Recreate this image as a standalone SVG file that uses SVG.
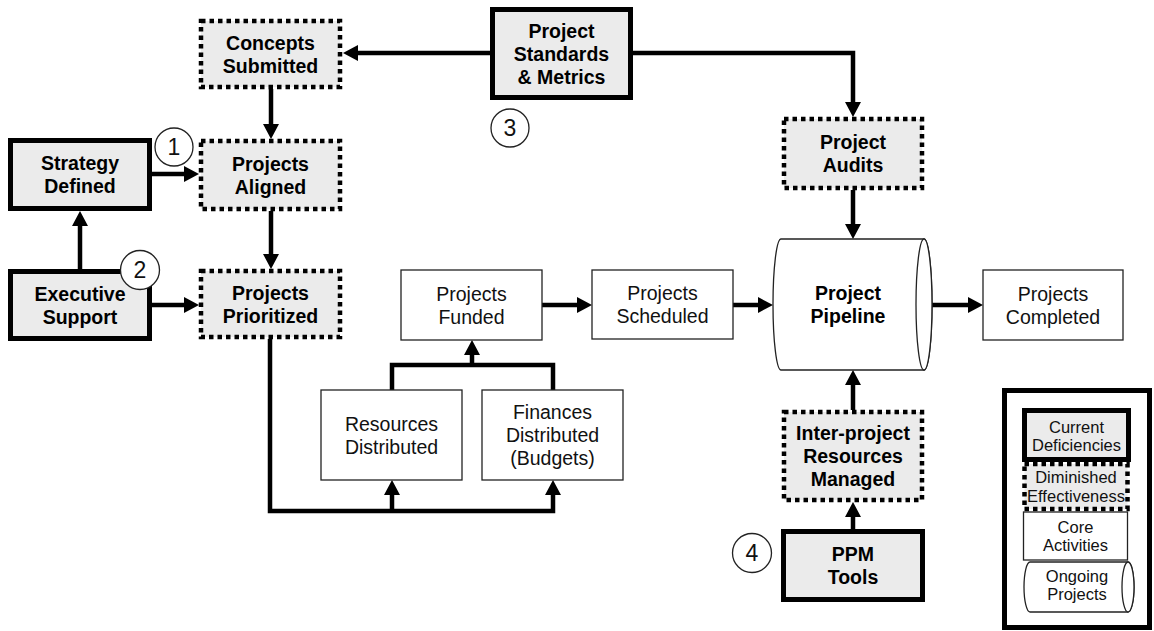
<svg xmlns="http://www.w3.org/2000/svg" width="1154" height="631" viewBox="0 0 1154 631">
<style>
  text { font-family: "Liberation Sans", Arial, sans-serif; fill: #000; text-anchor: middle; }
  .b { font-weight: bold; font-size: 19.5px; }
  .r { font-size: 19.5px; fill: #111; }
  .n { font-size: 23px; fill: #111; }
  .lg { font-size: 16.5px; fill: #111; }
  .cur { fill: #ebebeb; stroke: #000; stroke-width: 5; }
  .dim { fill: #ebebeb; stroke: #000; stroke-width: 4.5; stroke-dasharray: 4.5 4; }
  .core { fill: #fff; stroke: #222; stroke-width: 1.3; }
  .circ { fill: #fff; stroke: #222; stroke-width: 1.3; }
  .conn { fill: none; stroke: #000; stroke-width: 4.5; }
</style>
<defs>
  <marker id="ah" markerUnits="userSpaceOnUse" markerWidth="15" markerHeight="16" refX="5" refY="8" orient="auto">
    <path d="M0,0 L15,8 L0,16 z" fill="#000"/>
  </marker>
</defs>
<rect width="1154" height="631" fill="#fff"/>

<g id="connectors">
  <path class="conn" d="M490,53 H353" marker-end="url(#ah)"/>
  <path class="conn" d="M633,53 H853 V107" marker-end="url(#ah)"/>
  <path class="conn" d="M271,89 V129" marker-end="url(#ah)"/>
  <path class="conn" d="M152,174 H189" marker-end="url(#ah)"/>
  <path class="conn" d="M80,269 V221" marker-end="url(#ah)"/>
  <path class="conn" d="M152,305 H189" marker-end="url(#ah)"/>
  <path class="conn" d="M271,211 V259" marker-end="url(#ah)"/>
  <path class="conn" d="M270,339 V511 H553 V490" marker-end="url(#ah)"/>
  <path class="conn" d="M392,511 V490" marker-end="url(#ah)"/>
  <path class="conn" d="M392,390 V365 H553 V390"/>
  <path class="conn" d="M472,365 V350" marker-end="url(#ah)"/>
  <path class="conn" d="M542,305 H582" marker-end="url(#ah)"/>
  <path class="conn" d="M733,305 H763" marker-end="url(#ah)"/>
  <path class="conn" d="M853,190 V229" marker-end="url(#ah)"/>
  <path class="conn" d="M853,410 V380" marker-end="url(#ah)"/>
  <path class="conn" d="M853,529 V512" marker-end="url(#ah)"/>
  <path class="conn" d="M932,305 H973" marker-end="url(#ah)"/>
</g>

<g id="concepts-submitted">
  <rect class="dim" x="201" y="21" width="139" height="66"/>
  <text class="b" x="270.5" y="49.5">Concepts</text>
  <text class="b" x="270.5" y="72.5">Submitted</text>
</g>
<g id="project-standards">
  <rect class="cur" x="492.5" y="9.5" width="138" height="88"/>
  <text class="b" x="561.5" y="37.5">Project</text>
  <text class="b" x="561.5" y="60.5">Standards</text>
  <text class="b" x="561.5" y="83.5">&amp; Metrics</text>
</g>
<g id="strategy-defined">
  <rect class="cur" x="10.5" y="140.5" width="139" height="68"/>
  <text class="b" x="80" y="170">Strategy</text>
  <text class="b" x="80" y="193">Defined</text>
</g>
<g id="projects-aligned">
  <rect class="dim" x="201" y="141" width="139" height="68"/>
  <text class="b" x="270.5" y="170.5">Projects</text>
  <text class="b" x="270.5" y="193.5">Aligned</text>
</g>
<g id="executive-support">
  <rect class="cur" x="10.5" y="271.5" width="139" height="67"/>
  <text class="b" x="80" y="300.5">Executive</text>
  <text class="b" x="80" y="323.5">Support</text>
</g>
<g id="projects-prioritized">
  <rect class="dim" x="201" y="271" width="139" height="66"/>
  <text class="b" x="270.5" y="299.5">Projects</text>
  <text class="b" x="270.5" y="322.5">Prioritized</text>
</g>
<g id="project-audits">
  <rect class="dim" x="784" y="119" width="138" height="69"/>
  <text class="b" x="853" y="149">Project</text>
  <text class="b" x="853" y="172">Audits</text>
</g>
<g id="projects-funded">
  <rect class="core" x="401" y="270" width="141" height="70"/>
  <text class="r" x="471.5" y="300.5">Projects</text>
  <text class="r" x="471.5" y="323.5">Funded</text>
</g>
<g id="projects-scheduled">
  <rect class="core" x="592" y="270" width="141" height="69"/>
  <text class="r" x="662.5" y="300">Projects</text>
  <text class="r" x="662.5" y="323">Scheduled</text>
</g>
<g id="project-pipeline">
  <path class="core" d="M781,239 H924 A8,65.5 0 0 1 924,370 H781 A8,65.5 0 0 1 781,239 Z"/>
  <ellipse class="core" cx="924" cy="304.5" rx="8" ry="65.5"/>
  <text class="b" x="848" y="300">Project</text>
  <text class="b" x="848" y="323">Pipeline</text>
</g>
<g id="projects-completed">
  <rect class="core" x="983" y="270" width="140" height="70"/>
  <text class="r" x="1053" y="300.5">Projects</text>
  <text class="r" x="1053" y="323.5">Completed</text>
</g>
<g id="resources-distributed">
  <rect class="core" x="321" y="390" width="141" height="90"/>
  <text class="r" x="391.5" y="431">Resources</text>
  <text class="r" x="391.5" y="454">Distributed</text>
</g>
<g id="finances-distributed">
  <rect class="core" x="482" y="390" width="141" height="90"/>
  <text class="r" x="552.5" y="419">Finances</text>
  <text class="r" x="552.5" y="442">Distributed</text>
  <text class="r" x="552.5" y="465">(Budgets)</text>
</g>
<g id="inter-project">
  <rect class="dim" x="784" y="412" width="138" height="88"/>
  <text class="b" x="853" y="440">Inter-project</text>
  <text class="b" x="853" y="463">Resources</text>
  <text class="b" x="853" y="486">Managed</text>
</g>
<g id="ppm-tools">
  <rect class="cur" x="783.5" y="531.5" width="139" height="68"/>
  <text class="b" x="853" y="561">PPM</text>
  <text class="b" x="853" y="584">Tools</text>
</g>

<g id="marker-1">
  <circle class="circ" cx="174" cy="147" r="19"/>
  <text class="n" x="174" y="155">1</text>
</g>
<g id="marker-2">
  <circle class="circ" cx="140" cy="270" r="19.5"/>
  <text class="n" x="140" y="278">2</text>
</g>
<g id="marker-3">
  <circle class="circ" cx="510" cy="128" r="19"/>
  <text class="n" x="510" y="136">3</text>
</g>
<g id="marker-4">
  <circle class="circ" cx="752" cy="553" r="19.5"/>
  <text class="n" x="752" y="561">4</text>
</g>

<g id="legend">
  <rect x="1004.5" y="390.5" width="145" height="237" fill="#fff" stroke="#000" stroke-width="5"/>
  <rect class="cur" x="1024.5" y="410.5" width="104" height="49"/>
  <text class="lg" x="1076.5" y="432.5">Current</text>
  <text class="lg" x="1076.5" y="451">Deficiencies</text>
  <rect class="dim" x="1024.5" y="464" width="103" height="45" stroke-width="3.5" stroke-dasharray="3.5 3"/>
  <text class="lg" x="1076" y="482.5">Diminished</text>
  <text class="lg" x="1076" y="501.5">Effectiveness</text>
  <rect class="core" x="1023.5" y="512" width="104" height="48"/>
  <text class="lg" x="1075.5" y="532.5">Core</text>
  <text class="lg" x="1075.5" y="551">Activities</text>
  <path class="core" d="M1030,562 H1128 A6,25 0 0 1 1128,612 H1030 A6,25 0 0 1 1030,562 Z"/>
  <ellipse class="core" cx="1128" cy="587" rx="6" ry="25"/>
  <text class="lg" x="1077" y="582">Ongoing</text>
  <text class="lg" x="1077" y="600">Projects</text>
</g>
</svg>
